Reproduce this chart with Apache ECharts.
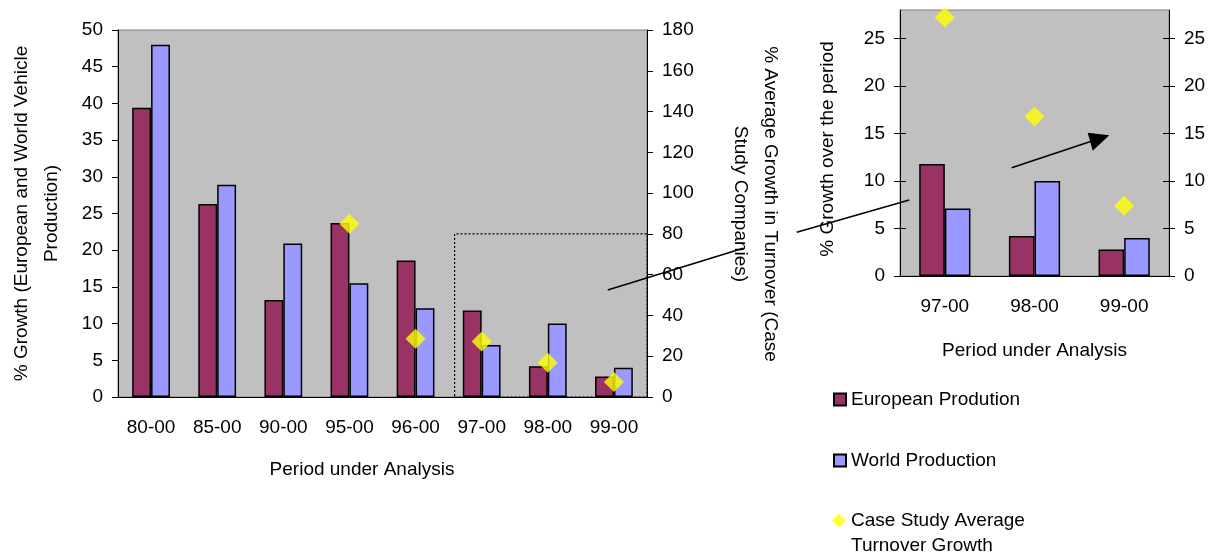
<!DOCTYPE html>
<html>
<head>
<meta charset="utf-8">
<script src="https://cdn.jsdelivr.net/npm/echarts@6/dist/echarts.min.js"></script>
<style>
html,body{margin:0;padding:0;background:#fff;}
#chart{width:1219px;height:555px;}
</style>
</head>
<body>
<div id="chart"></div>
<script>
// ---- data ----
const categories = ['80-00', '85-00', '90-00', '95-00', '96-00', '97-00', '98-00', '99-00'];
const europeanProduction = [39.4, 26.3, 13.2, 23.7, 18.6, 11.8, 4.2, 2.8];
const worldProduction = [48.0, 28.9, 20.9, 15.5, 12.1, 7.1, 10.0, 4.0];
const turnoverGrowth = [null, null, null, 85.0, 28.6, 27.2, 16.8, 7.4];
const zoomCategories = ['97-00', '98-00', '99-00'];
const zoomEuropean = [11.8, 4.2, 2.8];
const zoomWorld = [7.1, 10.0, 4.0];
const zoomTurnover = [27.2, 16.8, 7.4];
const zoomTicks = [0, 5, 10, 15, 20, 25];
const highlightBox = [[5.09, 0], [8, 80]];

const FONT = 'Liberation Sans, Arial, sans-serif';
const FS = 19;
const black = '#000';
const txt = { color: black, fontFamily: FONT, fontSize: FS };
const axisLine = { show: true, lineStyle: { color: black, width: 1 } };

const chart = echarts.init(document.getElementById('chart'), null, { renderer: 'canvas' });

const option = {
  animation: false,
  backgroundColor: '#fff',
  grid: [
    { left: 118, top: 30, width: 529, height: 367, show: true, backgroundColor: '#C0C0C0', borderColor: '#808080', borderWidth: 1 },
    { left: 900, top: 10, width: 269, height: 266, show: true, backgroundColor: '#C0C0C0', borderColor: '#808080', borderWidth: 1 }
  ],
  legend: [
    { data: [{ name: 'European Prodution', icon: 'rect' }], orient: 'vertical', left: 833, top: 390, padding: 0, itemWidth: 12, itemHeight: 12, itemGap: 0, textStyle: txt, selectedMode: false },
    { data: [{ name: 'World Production', icon: 'rect' }], orient: 'vertical', left: 833, top: 451, padding: 0, itemWidth: 12, itemHeight: 12, itemGap: 0, textStyle: txt, selectedMode: false },
    { data: [{ name: 'Case Study Average Turnover Growth', icon: 'diamond' }], orient: 'vertical', left: 832, top: 483, padding: 0, itemWidth: 14, itemHeight: 14, itemGap: 0, selectedMode: false,
      formatter: function () { return '\nCase Study Average\nTurnover Growth'; },
      textStyle: Object.assign({}, txt, { lineHeight: 25 }) }
  ],
  xAxis: [
    { gridIndex: 0, type: 'category', data: categories, position: 'bottom',
      axisLine: axisLine, axisTick: { length: 6, lineStyle: { color: black } },
      axisLabel: Object.assign({ margin: 21 }, txt), splitLine: { show: false },
      name: 'Period under Analysis', nameLocation: 'middle', nameGap: 63,
      nameTextStyle: Object.assign({}, txt, { padding: [0, 41, 0, 0] }) },
    { gridIndex: 0, type: 'category', data: categories, position: 'bottom',
      axisLine: { show: false }, axisTick: { inside: true, length: 6, lineStyle: { color: black } },
      axisLabel: { show: false }, splitLine: { show: false } },
    { gridIndex: 0, type: 'value', min: 0, max: 8, show: false },
    { gridIndex: 1, type: 'category', data: zoomCategories, position: 'bottom',
      axisLine: axisLine, axisTick: { length: 6, lineStyle: { color: black } },
      axisLabel: Object.assign({ margin: 21 }, txt), splitLine: { show: false },
      name: 'Period under Analysis', nameLocation: 'middle', nameGap: 65, nameTextStyle: txt },
    { gridIndex: 1, type: 'category', data: zoomCategories, position: 'bottom',
      axisLine: { show: false }, axisTick: { inside: true, length: 6, lineStyle: { color: black } },
      axisLabel: { show: false }, splitLine: { show: false } }
  ],
  yAxis: [
    { gridIndex: 0, type: 'value', position: 'left', min: 0, max: 50, interval: 5,
      axisLine: axisLine, axisTick: { show: true, length: 6, lineStyle: { color: black } },
      axisLabel: Object.assign({ margin: 15 }, txt), splitLine: { show: false },
      name: '% Growth (European and World Vehicle\nProduction)', nameLocation: 'middle', nameGap: 51, nameRotate: 90,
      nameTextStyle: Object.assign({}, txt, { lineHeight: 30 }) },
    { gridIndex: 0, type: 'value', position: 'right', min: 0, max: 180, interval: 20,
      axisLine: axisLine, axisTick: { show: true, length: 6, lineStyle: { color: black } },
      axisLabel: Object.assign({ margin: 15 }, txt), splitLine: { show: false },
      name: '% Average Growth in Turnover (Case\nStudy Companies)', nameLocation: 'middle', nameGap: 78, nameRotate: -90,
      nameTextStyle: Object.assign({}, txt, { lineHeight: 30, padding: [0, 19, 0, 0] }) },
    { gridIndex: 1, type: 'value', position: 'left', min: 0, max: 28,
      axisLine: axisLine, axisTick: { show: true, length: 6, lineStyle: { color: black }, customValues: zoomTicks },
      axisLabel: Object.assign({ margin: 15, customValues: zoomTicks }, txt), splitLine: { show: false },
      name: '% Growth over the period', nameLocation: 'middle', nameGap: 63, nameRotate: 90,
      nameTextStyle: Object.assign({}, txt, { padding: [0, 12, 0, 0] }) },
    { gridIndex: 1, type: 'value', position: 'right', min: 0, max: 28,
      axisLine: axisLine, axisTick: { show: true, length: 6, lineStyle: { color: black }, customValues: zoomTicks },
      axisLabel: Object.assign({ margin: 15, customValues: zoomTicks }, txt), splitLine: { show: false } },
    { gridIndex: 1, type: 'value', position: 'left', min: 0, max: 28,
      axisLine: { show: false }, axisTick: { show: true, inside: true, length: 6, lineStyle: { color: black }, customValues: zoomTicks },
      axisLabel: { show: false }, splitLine: { show: false } },
    { gridIndex: 1, type: 'value', position: 'right', min: 0, max: 28,
      axisLine: { show: false }, axisTick: { show: true, inside: true, length: 6, lineStyle: { color: black }, customValues: zoomTicks },
      axisLabel: { show: false }, splitLine: { show: false } }
  ],
  series: [
    { name: 'European Prodution', type: 'bar', xAxisIndex: 0, yAxisIndex: 0, data: europeanProduction,
      barWidth: '28.57%', barGap: '0%', itemStyle: { color: '#993366', borderColor: black, borderWidth: 1.5 } },
    { name: 'World Production', type: 'bar', xAxisIndex: 0, yAxisIndex: 0, data: worldProduction,
      barWidth: '28.57%', barGap: '0%', itemStyle: { color: '#9999FF', borderColor: black, borderWidth: 1.5 } },
    { name: 'Case Study Average Turnover Growth', type: 'scatter', xAxisIndex: 0, yAxisIndex: 1, data: turnoverGrowth,
      symbol: 'diamond', symbolSize: 20, itemStyle: { color: '#FFFF00' }, z: 5 },
    { name: 'box', type: 'scatter', xAxisIndex: 2, yAxisIndex: 1, data: [], symbolSize: 0, silent: true,
      markArea: { silent: true, itemStyle: { color: 'rgba(0,0,0,0)', borderColor: black, borderWidth: 1.2, borderType: [2, 2] },
        data: [[{ coord: highlightBox[0] }, { coord: highlightBox[1] }]] }, z: 6 },
    { name: 'European Prodution', type: 'bar', xAxisIndex: 3, yAxisIndex: 2, data: zoomEuropean,
      barWidth: '28.57%', barGap: '0%', itemStyle: { color: '#993366', borderColor: black, borderWidth: 1.5 } },
    { name: 'World Production', type: 'bar', xAxisIndex: 3, yAxisIndex: 2, data: zoomWorld,
      barWidth: '28.57%', barGap: '0%', itemStyle: { color: '#9999FF', borderColor: black, borderWidth: 1.5 } },
    { name: 'Case Study Average Turnover Growth', type: 'scatter', xAxisIndex: 3, yAxisIndex: 2, data: zoomTurnover,
      symbol: 'diamond', symbolSize: 20, itemStyle: { color: '#FFFF00' }, z: 5 }
  ],
  graphic: [
    { type: 'line', z: 100, shape: { x1: 607.7, y1: 290, x2: 743.3, y2: 248.3 }, style: { stroke: black, lineWidth: 1.6 } },
    { type: 'line', z: 100, shape: { x1: 796.7, y1: 232.3, x2: 909.3, y2: 200 }, style: { stroke: black, lineWidth: 1.6 } },
    { type: 'line', z: 100, shape: { x1: 1011.7, y1: 167.7, x2: 1092, y2: 141 }, style: { stroke: black, lineWidth: 1.6 } },
    { type: 'polygon', z: 100, shape: { points: [[1109.3, 135.3], [1087.7, 132.7], [1092.7, 150.7]] }, style: { fill: black } }
  ]
};
chart.setOption(option);
</script>
</body>
</html>
